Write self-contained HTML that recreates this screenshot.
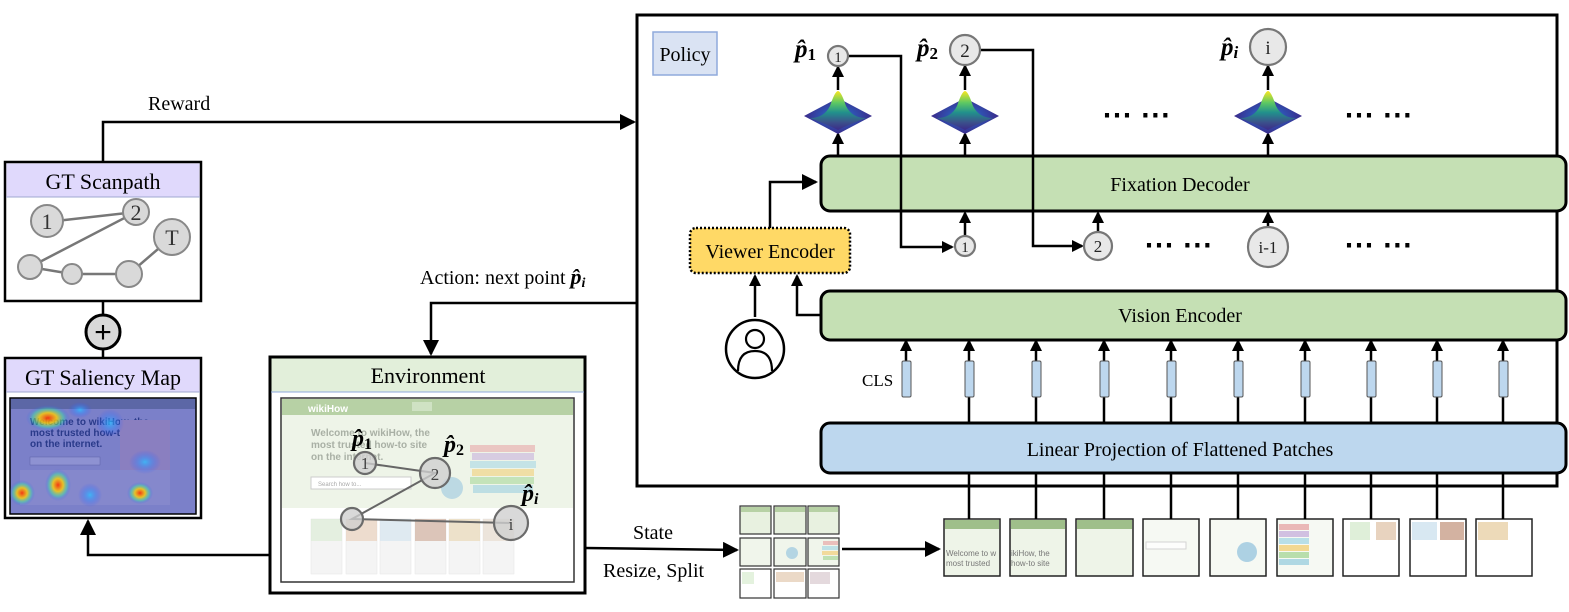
<!DOCTYPE html>
<html><head><meta charset="utf-8"><style>
html,body{margin:0;padding:0;background:#fff;}
svg{display:block;font-family:"Liberation Serif",serif;}
</style></head><body>
<svg width="1569" height="612" viewBox="0 0 1569 612" xmlns="http://www.w3.org/2000/svg">
<defs>
<marker id="ah" markerWidth="12" markerHeight="12" refX="10" refY="6" orient="auto" markerUnits="userSpaceOnUse" viewBox="0 0 12 12"><path d="M0,0 L12,6 L0,12 z" fill="#000"/></marker>
<marker id="ahb" markerWidth="16" markerHeight="16" refX="14" refY="8" orient="auto" markerUnits="userSpaceOnUse" viewBox="0 0 16 16"><path d="M0,0 L16,8 L0,16 z" fill="#000"/></marker>
<linearGradient id="peak" x1="0" y1="0" x2="0" y2="1"><stop offset="0" stop-color="#f9e721"/><stop offset="0.3" stop-color="#5ec962"/><stop offset="0.55" stop-color="#21918c"/><stop offset="0.8" stop-color="#3b528b"/><stop offset="1" stop-color="#3b2a8a"/></linearGradient>
<radialGradient id="base" cx="0.5" cy="0.5" r="0.5"><stop offset="0" stop-color="#2c8fc0"/><stop offset="0.5" stop-color="#3050b0"/><stop offset="1" stop-color="#3b2a8a"/></radialGradient>
<radialGradient id="hot" cx="0.5" cy="0.5" r="0.5"><stop offset="0" stop-color="#ff3000" stop-opacity="0.9"/><stop offset="0.4" stop-color="#ffd000" stop-opacity="0.8"/><stop offset="0.7" stop-color="#40e0a0" stop-opacity="0.5"/><stop offset="1" stop-color="#3050ff" stop-opacity="0"/></radialGradient>
<radialGradient id="cool" cx="0.5" cy="0.5" r="0.5"><stop offset="0" stop-color="#30c0ff" stop-opacity="0.8"/><stop offset="1" stop-color="#3050ff" stop-opacity="0"/></radialGradient>
<g id="gauss">
<polygon points="-34,0 0,-18 34,0 0,18" fill="url(#base)"/>
<path d="M-28,2 Q-14,2 -8,-10 Q-3,-25 0,-25 Q3,-25 8,-10 Q14,2 28,2 Q12,8 0,14 Q-12,8 -28,2 z" fill="url(#peak)"/>
</g>
</defs>

<!-- Policy outer box -->
<rect x="637" y="15" width="920" height="471" fill="#fff" stroke="#000" stroke-width="3"/>
<rect x="653" y="32" width="64" height="43" fill="#dae3f3" stroke="#8faadc" stroke-width="1.5"/>
<text x="685" y="61" font-size="20" text-anchor="middle">Policy</text>

<!-- Reward -->
<polyline points="103,162 103,122 634,122" fill="none" stroke="#000" stroke-width="2.5" marker-end="url(#ahb)"/>
<text x="148" y="110" font-size="20">Reward</text>

<!-- GT Scanpath -->
<rect x="5" y="162" width="196" height="139" fill="#fff" stroke="#000" stroke-width="2.5"/>
<rect x="6.5" y="163.5" width="193" height="33" fill="#e0d9fc"/>
<line x1="6" y1="197" x2="200" y2="197" stroke="#9fa8d0" stroke-width="1"/>
<text x="103" y="189" font-size="22" text-anchor="middle">GT Scanpath</text>
<g stroke="#777" stroke-width="2.5" fill="none">
<polyline points="47,222 136,212 30,267 72,274 129,274 172,237"/>
</g>
<g fill="#d9d9d9" stroke="#888" stroke-width="2">
<circle cx="47" cy="221" r="16"/><circle cx="136" cy="212" r="13"/><circle cx="172" cy="237" r="18"/>
<circle cx="30" cy="267" r="12"/><circle cx="72" cy="274" r="10"/><circle cx="129" cy="274" r="13"/>
</g>
<g font-size="22" text-anchor="middle" fill="#333"><text x="47" y="229">1</text><text x="136" y="220">2</text><text x="172" y="245">T</text></g>

<!-- plus -->
<line x1="103" y1="301" x2="103" y2="358" stroke="#000" stroke-width="2.5"/>
<circle cx="103" cy="332" r="17" fill="#d9d9d9" stroke="#000" stroke-width="3"/>
<text x="103" y="342" font-size="30" text-anchor="middle" font-family="Liberation Sans, sans-serif">+</text>

<!-- GT Saliency map -->
<rect x="5" y="358" width="196" height="160" fill="#fff" stroke="#000" stroke-width="2.5"/>
<rect x="6.5" y="359.5" width="193" height="33" fill="#e0d9fc"/>
<line x1="6" y1="392" x2="200" y2="392" stroke="#9fa8d0" stroke-width="1"/>
<text x="103" y="385" font-size="22" text-anchor="middle">GT Saliency Map</text>
<rect x="10" y="398" width="186" height="116" fill="#7b80c9" stroke="#000" stroke-width="1.5"/>
<rect x="11" y="399" width="184" height="10" fill="#5c67a6"/>
<text x="30" y="425" font-size="10" font-family="Liberation Sans, sans-serif" font-weight="bold" fill="#2a3a8a">Welcome to wikiHow, the</text>
<text x="30" y="436" font-size="10" font-family="Liberation Sans, sans-serif" font-weight="bold" fill="#2a3a8a">most trusted how-to site</text>
<text x="30" y="447" font-size="10" font-family="Liberation Sans, sans-serif" font-weight="bold" fill="#2a3a8a">on the internet.</text>
<rect x="30" y="457" width="70" height="8" fill="#8e92d2" stroke="#5c62a8" stroke-width="0.5"/>
<rect x="120" y="420" width="50" height="60" fill="#8a7fc0"/>
<rect x="20" y="470" width="150" height="35" fill="#8588cc"/>
<ellipse cx="48" cy="418" rx="22" ry="13" fill="url(#hot)"/>
<ellipse cx="22" cy="493" rx="13" ry="13" fill="url(#hot)"/>
<ellipse cx="58" cy="485" rx="13" ry="16" fill="url(#hot)"/>
<ellipse cx="140" cy="493" rx="13" ry="11" fill="url(#hot)"/>
<ellipse cx="110" cy="423" rx="14" ry="14" fill="url(#cool)"/>
<ellipse cx="145" cy="462" rx="16" ry="12" fill="url(#cool)"/>
<ellipse cx="90" cy="495" rx="12" ry="12" fill="url(#cool)"/>
<ellipse cx="80" cy="410" rx="12" ry="8" fill="url(#cool)"/>

<!-- Env -> saliency arrow -->
<polyline points="270,555 88,555 88,521" fill="none" stroke="#000" stroke-width="2.5" marker-end="url(#ahb)"/>

<!-- Environment -->
<rect x="270" y="357" width="315" height="236" fill="#fff" stroke="#000" stroke-width="3"/>
<rect x="271.5" y="358.5" width="312" height="33" fill="#e2efda"/>
<line x1="271" y1="392" x2="584" y2="392" stroke="#8faadc" stroke-width="1"/>
<text x="428" y="383" font-size="22" text-anchor="middle">Environment</text>
<rect x="281" y="398" width="293" height="184" fill="#fff" stroke="#333" stroke-width="1.5"/>
<rect x="282" y="399" width="291" height="16" fill="#b7d1a5"/>
<text x="308" y="412" font-size="10" font-weight="bold" fill="#fff" font-family="Liberation Sans, sans-serif">wikiHow</text>
<rect x="412" y="402" width="20" height="9" fill="#cfe2c3"/>
<rect x="282" y="415" width="291" height="93" fill="#eef4e8"/>
<g font-family="Liberation Sans, sans-serif" font-weight="bold" font-size="10" fill="#a9b0a5">
<text x="311" y="436">Welcome to wikiHow, the</text><text x="311" y="448">most trusted how-to site</text><text x="311" y="460">on the internet.</text></g>
<rect x="311" y="477" width="100" height="12" fill="#fff" stroke="#ccc"/>
<text x="318" y="486" font-size="6" fill="#aaa" font-family="Liberation Sans, sans-serif">Search how to...</text>
<g opacity="0.6"><rect x="470" y="445" width="65" height="7" fill="#e8a9a9"/><rect x="472" y="453" width="62" height="7" fill="#c9b2dd"/><rect x="470" y="461" width="66" height="7" fill="#a9d9e6"/><rect x="472" y="469" width="62" height="7" fill="#f2d07a"/><rect x="470" y="477" width="64" height="7" fill="#a9d89b"/><rect x="473" y="485" width="60" height="8" fill="#9ed0e0"/><circle cx="452" cy="488" r="11" fill="#9cc8e0"/></g>
<g fill="#f4f4f4" stroke="#e6e6e6" stroke-width="0.5"><rect x="311" y="519" width="31" height="55"/><rect x="346" y="519" width="31" height="55"/><rect x="380" y="519" width="31" height="55"/><rect x="415" y="519" width="31" height="55"/><rect x="449" y="519" width="31" height="55"/><rect x="483" y="519" width="31" height="55"/></g>
<g opacity="0.55"><rect x="311" y="519" width="31" height="22" fill="#d8ecd0"/><rect x="346" y="519" width="31" height="22" fill="#e9c9b0"/><rect x="380" y="519" width="31" height="22" fill="#cfe3f0"/><rect x="415" y="519" width="31" height="22" fill="#c9a08a"/><rect x="449" y="519" width="31" height="22" fill="#e9d2a8"/><rect x="483" y="519" width="31" height="22" fill="#e7d7c8"/></g>
<g stroke="#666" stroke-width="2" fill="none"><polyline points="365,463 435,473 352,519 511,523"/></g>
<g fill="#d0d0d0" fill-opacity="0.8" stroke="#6b6b6b" stroke-width="2.2"><circle cx="365" cy="463" r="11"/><circle cx="435" cy="473" r="15"/><circle cx="352" cy="519" r="11"/><circle cx="511" cy="523" r="17"/></g>
<g font-size="17" text-anchor="middle" fill="#444"><text x="365" y="469">1</text><text x="435" y="480">2</text><text x="511" y="530">i</text></g>
<g font-weight="bold" font-style="italic" font-size="24"><text x="352" y="446">p̂<tspan font-size="16" font-style="normal" dy="3">1</tspan></text><text x="444" y="452">p̂<tspan font-size="16" font-style="normal" dy="3">2</tspan></text><text x="522" y="501">p̂<tspan font-size="16" dy="3">i</tspan></text></g>

<!-- Action -->
<polyline points="637,303 431,303 431,354" fill="none" stroke="#000" stroke-width="2.5" marker-end="url(#ahb)"/>
<text x="420" y="284" font-size="20">Action: next point <tspan font-weight="bold" font-style="italic" font-size="22">p̂<tspan font-size="14" dy="3">i</tspan></tspan></text>

<!-- State -->
<line x1="585" y1="548" x2="737" y2="550" stroke="#000" stroke-width="2.5" marker-end="url(#ahb)"/>
<text x="633" y="539" font-size="20">State</text>
<text x="603" y="577" font-size="20">Resize, Split</text>
<g stroke="#333" stroke-width="1.2">
<rect x="740" y="506" width="31" height="28" fill="#e8f1e0"/><rect x="774" y="506" width="32" height="28" fill="#e8f1e0"/><rect x="808" y="506" width="31" height="28" fill="#e8f1e0"/>
<rect x="740" y="538" width="31" height="28" fill="#f0f5eb"/><rect x="774" y="538" width="32" height="28" fill="#f0f5eb"/><rect x="808" y="538" width="31" height="28" fill="#f0f5eb"/>
<rect x="740" y="569" width="31" height="29" fill="#fff"/><rect x="774" y="569" width="32" height="29" fill="#fff"/><rect x="808" y="569" width="31" height="29" fill="#fff"/>
</g>
<g fill="#b7d1a5"><rect x="741" y="507" width="29" height="5"/><rect x="775" y="507" width="30" height="5"/><rect x="809" y="507" width="29" height="5"/></g>
<g opacity="0.7"><rect x="823" y="541" width="15" height="4" fill="#e8a9a9"/><rect x="822" y="546" width="16" height="4" fill="#a9d9e6"/><rect x="822" y="551" width="16" height="4" fill="#f2d07a"/><rect x="823" y="556" width="15" height="4" fill="#a9d89b"/><circle cx="792" cy="553" r="6" fill="#9cc8e0"/><rect x="742" y="572" width="12" height="12" fill="#d8ecd0"/><rect x="776" y="572" width="28" height="10" fill="#e3c9b0"/><rect x="810" y="572" width="20" height="12" fill="#d9c9d0"/></g>
<line x1="842" y1="549" x2="939" y2="549" stroke="#000" stroke-width="2.5" marker-end="url(#ahb)"/>

<!-- Patches -->
<g stroke="#222" stroke-width="1.5">
<rect x="944" y="519" width="56" height="57" fill="#eef4e8"/><rect x="1010" y="519" width="56" height="57" fill="#eef4e8"/><rect x="1076" y="519" width="57" height="57" fill="#eef4e8"/>
<rect x="1143" y="519" width="56" height="57" fill="#f6f9f3"/><rect x="1210" y="519" width="56" height="57" fill="#f6f9f3"/><rect x="1277" y="519" width="56" height="57" fill="#f6f9f3"/>
<rect x="1343" y="519" width="56" height="57" fill="#fff"/><rect x="1410" y="519" width="56" height="57" fill="#fff"/><rect x="1476" y="519" width="56" height="57" fill="#fff"/>
</g>
<g fill="#9fbf8a"><rect x="945" y="520" width="54" height="9"/><rect x="1011" y="520" width="54" height="9"/><rect x="1077" y="520" width="55" height="9"/></g>
<g font-family="Liberation Sans, sans-serif" font-size="8" fill="#777"><text x="946" y="556">Welcome to w</text><text x="946" y="566">most trusted</text><text x="1011" y="556">ikiHow, the</text><text x="1011" y="566">how-to site</text></g>
<g opacity="0.8"><rect x="1279" y="524" width="30" height="6" fill="#e8a9a9"/><rect x="1279" y="531" width="30" height="6" fill="#c9b2dd"/><rect x="1279" y="538" width="30" height="6" fill="#a9d9e6"/><rect x="1279" y="545" width="30" height="6" fill="#f2d07a"/><rect x="1279" y="552" width="30" height="6" fill="#a9d89b"/><rect x="1279" y="559" width="30" height="6" fill="#9ed0e0"/><circle cx="1247" cy="552" r="10" fill="#9cc8e0"/><rect x="1146" y="542" width="40" height="7" fill="#fff" stroke="#ccc"/><rect x="1350" y="522" width="20" height="18" fill="#d8ecd0"/><rect x="1376" y="522" width="20" height="18" fill="#e3c9b0"/><rect x="1412" y="522" width="25" height="18" fill="#cfe3f0"/><rect x="1440" y="522" width="24" height="18" fill="#c9a08a"/><rect x="1478" y="522" width="30" height="18" fill="#e9d2a8"/></g>

<!-- lines linear proj -> patches -->
<g stroke="#000" stroke-width="2.5">
<line x1="969" y1="473" x2="969" y2="519"/><line x1="1036" y1="473" x2="1036" y2="519"/><line x1="1104" y1="473" x2="1104" y2="519"/><line x1="1171" y1="473" x2="1171" y2="519"/><line x1="1238" y1="473" x2="1238" y2="519"/><line x1="1305" y1="473" x2="1305" y2="519"/><line x1="1371" y1="473" x2="1371" y2="519"/><line x1="1437" y1="473" x2="1437" y2="519"/><line x1="1503" y1="473" x2="1503" y2="519"/>
</g>

<!-- Linear projection -->
<rect x="821" y="423" width="745" height="50" rx="9" fill="#bdd7ee" stroke="#000" stroke-width="3"/>
<text x="1180" y="456" font-size="20" text-anchor="middle">Linear Projection of Flattened Patches</text>

<!-- tokens -->
<g stroke="#000" stroke-width="2.5">
<line x1="969" y1="423" x2="969" y2="397"/><line x1="1036" y1="423" x2="1036" y2="397"/><line x1="1104" y1="423" x2="1104" y2="397"/><line x1="1171" y1="423" x2="1171" y2="397"/><line x1="1238" y1="423" x2="1238" y2="397"/><line x1="1305" y1="423" x2="1305" y2="397"/><line x1="1371" y1="423" x2="1371" y2="397"/><line x1="1437" y1="423" x2="1437" y2="397"/><line x1="1503" y1="423" x2="1503" y2="397"/>
</g>
<g stroke="#000" stroke-width="2.5" marker-end="url(#ah)">
<line x1="906" y1="361" x2="906" y2="341"/><line x1="969" y1="361" x2="969" y2="341"/><line x1="1036" y1="361" x2="1036" y2="341"/><line x1="1104" y1="361" x2="1104" y2="341"/><line x1="1171" y1="361" x2="1171" y2="341"/><line x1="1238" y1="361" x2="1238" y2="341"/><line x1="1305" y1="361" x2="1305" y2="341"/><line x1="1371" y1="361" x2="1371" y2="341"/><line x1="1437" y1="361" x2="1437" y2="341"/><line x1="1503" y1="361" x2="1503" y2="341"/>
</g>
<g fill="#bdd7ee" stroke="#555" stroke-width="1">
<rect x="902" y="361" width="9" height="36" rx="1.5"/><rect x="965" y="361" width="9" height="36" rx="1.5"/><rect x="1032" y="361" width="9" height="36" rx="1.5"/><rect x="1100" y="361" width="9" height="36" rx="1.5"/><rect x="1167" y="361" width="9" height="36" rx="1.5"/><rect x="1234" y="361" width="9" height="36" rx="1.5"/><rect x="1301" y="361" width="9" height="36" rx="1.5"/><rect x="1367" y="361" width="9" height="36" rx="1.5"/><rect x="1433" y="361" width="9" height="36" rx="1.5"/><rect x="1499" y="361" width="9" height="36" rx="1.5"/>
</g>
<text x="862" y="386" font-size="17">CLS</text>

<!-- Vision encoder -->
<rect x="821" y="291" width="745" height="49" rx="9" fill="#c5e0b4" stroke="#000" stroke-width="3"/>
<text x="1180" y="322" font-size="20" text-anchor="middle">Vision Encoder</text>
<polyline points="821,315 797,315 797,276" fill="none" stroke="#000" stroke-width="2.5" marker-end="url(#ah)"/>

<!-- person -->
<circle cx="755" cy="349" r="29" fill="#fff" stroke="#000" stroke-width="2.5"/>
<circle cx="755" cy="339" r="9" fill="none" stroke="#000" stroke-width="2.2"/>
<path d="M738,371 Q738,351 755,351 Q772,351 772,371" fill="none" stroke="#000" stroke-width="2.2"/>
<line x1="755" y1="317" x2="755" y2="276" stroke="#000" stroke-width="2.5" marker-end="url(#ah)"/>

<!-- Viewer encoder -->
<rect x="690" y="228" width="160" height="45" rx="6" fill="#ffd966" stroke="#000" stroke-width="2.5" stroke-dasharray="2,2"/>
<text x="770" y="258" font-size="20" text-anchor="middle">Viewer Encoder</text>
<polyline points="770,228 770,182 816,182" fill="none" stroke="#000" stroke-width="2.5" marker-end="url(#ahb)"/>

<!-- Fixation decoder -->
<rect x="821" y="156" width="745" height="55" rx="9" fill="#c5e0b4" stroke="#000" stroke-width="3"/>
<text x="1180" y="191" font-size="20" text-anchor="middle">Fixation Decoder</text>

<!-- top outputs -->
<g stroke="#000" stroke-width="2.5" fill="none">
<polyline points="848,56 901,56 901,247 952,247" marker-end="url(#ah)"/>
<polyline points="980,50 1033,50 1033,246 1082,246" marker-end="url(#ah)"/>
</g>
<g stroke="#000" stroke-width="2.5" marker-end="url(#ah)">
<line x1="838" y1="156" x2="838" y2="134"/><line x1="965" y1="156" x2="965" y2="134"/><line x1="1268" y1="156" x2="1268" y2="134"/>
<line x1="838" y1="90" x2="838" y2="67"/><line x1="965" y1="90" x2="965" y2="66"/><line x1="1268" y1="90" x2="1268" y2="66"/>
<line x1="965" y1="235" x2="965" y2="213"/><line x1="1098" y1="232" x2="1098" y2="213"/><line x1="1268" y1="226" x2="1268" y2="213"/>
</g>
<use href="#gauss" x="838" y="116"/><use href="#gauss" x="965" y="116"/><use href="#gauss" x="1268" y="116"/>
<g fill="#e8e8e8" stroke="#777" stroke-width="2.2">
<circle cx="838" cy="56" r="10"/><circle cx="965" cy="50" r="15"/><circle cx="1268" cy="47" r="18"/>
<circle cx="965" cy="246" r="10"/><circle cx="1098" cy="246" r="14"/><circle cx="1268" cy="247" r="20"/>
</g>
<g text-anchor="middle" fill="#222"><text x="838" y="62" font-size="15">1</text><text x="965" y="57" font-size="19">2</text><text x="1268" y="54" font-size="19">i</text><text x="965" y="252" font-size="15">1</text><text x="1098" y="252" font-size="17">2</text><text x="1268" y="253" font-size="17">i-1</text></g>
<g font-weight="bold" font-style="italic" font-size="25"><text x="795" y="57">p̂<tspan font-size="17" font-style="normal" dy="3">1</tspan></text><text x="917" y="56">p̂<tspan font-size="17" font-style="normal" dy="3">2</tspan></text><text x="1221" y="55">p̂<tspan font-size="17" dy="3">i</tspan></text></g>
<g font-size="30" font-weight="bold" font-family="Liberation Sans, sans-serif"><text x="1102" y="125">⋯ ⋯</text><text x="1344" y="125">⋯ ⋯</text><text x="1144" y="255">⋯ ⋯</text><text x="1344" y="255">⋯ ⋯</text></g>
</svg>
</body></html>
